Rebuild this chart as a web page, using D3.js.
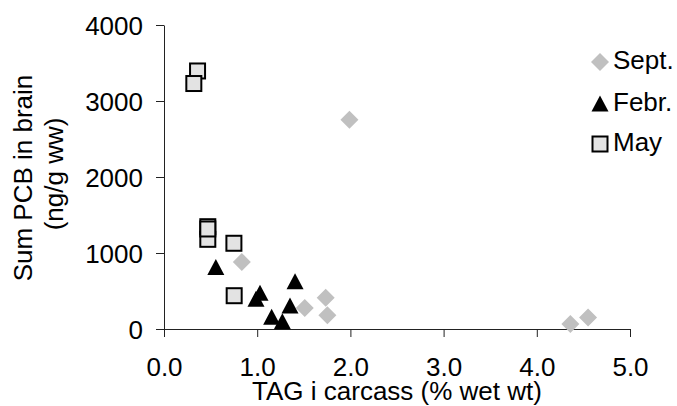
<!DOCTYPE html>
<html>
<head>
<meta charset="utf-8">
<script src="https://cdn.jsdelivr.net/npm/d3@7"></script>
<style>
body { margin: 0; background: #fff; }
text { font-family: "Liberation Sans", Arial, sans-serif; fill: #000; }
</style>
</head>
<body>
<div id="chart"></div>
<script>
// TAG (% wet wt) vs sum PCB (ng/g ww)
var sept = [[0.835, 882], [1.51, 276], [1.735, 412], [1.753, 180], [1.99, 2754], [4.36, 66], [4.55, 150]]
var febr = [[0.556, 809], [1.03, 470], [0.987, 390], [1.406, 623], [1.352, 302], [1.155, 154], [1.27, 96]]
var may = [[0.47, 1180], [0.47, 1346], [0.47, 1316], [0.75, 1128], [0.753, 438], [0.36, 3395], [0.32, 3230]]
var xTicks = [0, 1, 2, 3, 4, 5]
var yTicks = [0, 1000, 2000, 3000, 4000]
var seriesNames = ['Sept.', 'Febr.', 'May']

var width = 677, height = 406
var fontSize = 26

var svg = d3.select('#chart').append('svg').attr('width', width).attr('height', height)

var x = d3.scaleLinear().domain([0, 5]).range([164, 630])
var y = d3.scaleLinear().domain([0, 4000]).range([329, 25])

var xAxis = d3.axisBottom(x).tickValues(xTicks).tickFormat(d3.format('.1f')).tickSize(8).tickSizeOuter(0)
var yAxis = d3.axisLeft(y).tickValues(yTicks).tickFormat(d3.format('d')).tickSize(8).tickSizeOuter(0)

var gx = svg.append('g').attr('transform', 'translate(0,' + y(0) + ')').call(xAxis)
var gy = svg.append('g').attr('transform', 'translate(' + x(0) + ',0)').call(yAxis)

;[gx, gy].forEach(function (g) {
	g.select('.domain').attr('stroke', '#222')
	g.selectAll('.tick line').attr('stroke', '#222')
	g.selectAll('.tick text').style('font-size', fontSize + 'px').attr('fill', '#000')
		.style('font-family', '"Liberation Sans", Arial, sans-serif')
})
gx.selectAll('.tick text').attr('y', 47).attr('dy', null)
gy.selectAll('.tick text').attr('x', -21).attr('dy', '0.36em')

svg.append('text').attr('x', (x(0) + x(5)) / 2).attr('y', 400).attr('text-anchor', 'middle')
	.style('font-size', fontSize + 'px').text('TAG i carcass (% wet wt)')

svg.append('text').attr('transform', 'translate(32,178) rotate(-90)').attr('text-anchor', 'middle')
	.style('font-size', fontSize + 'px').text('Sum PCB in brain')
svg.append('text').attr('transform', 'translate(63,174) rotate(-90)').attr('text-anchor', 'middle')
	.style('font-size', fontSize + 'px').text('(ng/g ww)')

// marker shapes
var diamond = function (g) {
	g.append('path').attr('d', 'M0,-9L9,0L0,9L-9,0Z').attr('fill', '#c0c0c0')
}
var triangle = function (g) {
	g.append('path').attr('d', 'M0,-8.5L8.5,7.5L-8.5,7.5Z').attr('fill', '#000')
}
var square = function (g) {
	g.append('rect').attr('x', -7.5).attr('y', -7.5).attr('width', 15).attr('height', 15)
		.attr('fill', '#e3e3e3').attr('stroke', '#000').attr('stroke-width', 2)
}
var shapes = [diamond, triangle, square]

;[sept, febr, may].forEach(function (data, i) {
	svg.append('g').selectAll('g').data(data).enter().append('g')
		.attr('transform', function (d) { return 'translate(' + x(d[0]) + ',' + y(d[1]) + ')' })
		.each(function () { shapes[i](d3.select(this)) })
})

// legend
var legendY = [62, 104, 144]
seriesNames.forEach(function (name, i) {
	var g = svg.append('g').attr('transform', 'translate(600,' + legendY[i] + ')')
	shapes[i](g)
	g.append('text').attr('x', 13).attr('y', 7).style('font-size', fontSize + 'px').text(name)
})
</script>
</body>
</html>
